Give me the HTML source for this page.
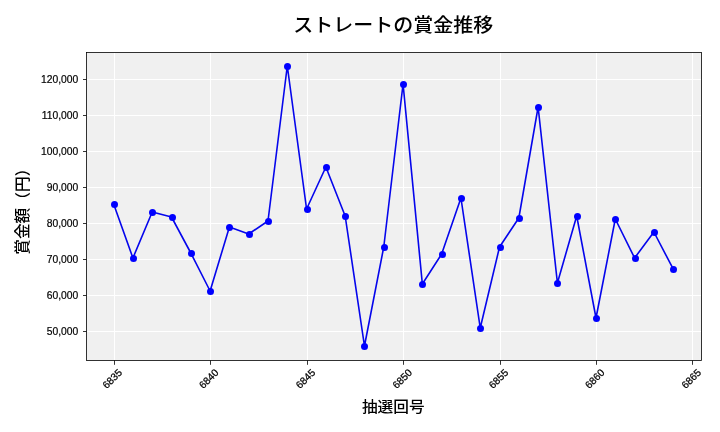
<!DOCTYPE html>
<html lang="ja"><head><meta charset="utf-8"><title>ストレートの賞金推移</title>
<style>html,body{margin:0;padding:0;background:#fff;overflow:hidden}svg{display:block}text{font-family:"Liberation Sans", "Noto Sans CJK JP", sans-serif;fill:#000}</style></head><body>
<svg width="720" height="432" viewBox="0 0 720 432">
<rect x="0" y="0" width="720" height="432" fill="#ffffff"/>
<rect x="86.50" y="52.50" width="615.00" height="308.00" fill="#f0f0f0"/>
<path d="M114.5 52.5V360.5M210.5 52.5V360.5M307.5 52.5V360.5M403.5 52.5V360.5M500.5 52.5V360.5M596.5 52.5V360.5M692.5 52.5V360.5M86.5 331.5H701.5M86.5 295.5H701.5M86.5 259.5H701.5M86.5 223.5H701.5M86.5 187.5H701.5M86.5 151.5H701.5M86.5 115.5H701.5M86.5 79.5H701.5" stroke="#ffffff" stroke-width="1" fill="none"/>
<path d="M114.5 360.5v4.3M210.5 360.5v4.3M307.5 360.5v4.3M403.5 360.5v4.3M500.5 360.5v4.3M596.5 360.5v4.3M692.5 360.5v4.3M86.5 331.5h-3.5M86.5 295.5h-3.5M86.5 259.5h-3.5M86.5 223.5h-3.5M86.5 187.5h-3.5M86.5 151.5h-3.5M86.5 115.5h-3.5M86.5 79.5h-3.5" stroke="#000" stroke-width="0.8" fill="none"/>
<polyline points="113.63,204.00 132.93,258.00 152.22,212.00 171.51,217.00 190.81,253.00 210.11,291.00 229.40,227.00 248.69,234.00 267.99,221.00 287.29,66.00 306.58,209.00 325.88,167.00 345.17,216.00 364.47,346.00 383.76,247.00 403.06,84.00 422.35,284.00 441.65,254.00 460.94,198.00 480.24,328.00 499.53,247.00 518.83,218.00 538.12,107.00 557.41,283.00 576.71,216.00 596.01,318.00 615.30,219.00 634.60,258.00 653.89,232.00 673.19,269.00" fill="none" stroke="#0505ec" stroke-width="1.6" stroke-linejoin="round" stroke-linecap="square"/>
<circle cx="114.5" cy="204.5" r="3.5" fill="#0000ff"/>
<circle cx="133.5" cy="258.5" r="3.5" fill="#0000ff"/>
<circle cx="152.5" cy="212.5" r="3.5" fill="#0000ff"/>
<circle cx="172.5" cy="217.5" r="3.5" fill="#0000ff"/>
<circle cx="191.5" cy="253.5" r="3.5" fill="#0000ff"/>
<circle cx="210.5" cy="291.5" r="3.5" fill="#0000ff"/>
<circle cx="229.5" cy="227.5" r="3.5" fill="#0000ff"/>
<circle cx="249.5" cy="234.5" r="3.5" fill="#0000ff"/>
<circle cx="268.5" cy="221.5" r="3.5" fill="#0000ff"/>
<circle cx="287.5" cy="66.5" r="3.5" fill="#0000ff"/>
<circle cx="307.5" cy="209.5" r="3.5" fill="#0000ff"/>
<circle cx="326.5" cy="167.5" r="3.5" fill="#0000ff"/>
<circle cx="345.5" cy="216.5" r="3.5" fill="#0000ff"/>
<circle cx="364.5" cy="346.5" r="3.5" fill="#0000ff"/>
<circle cx="384.5" cy="247.5" r="3.5" fill="#0000ff"/>
<circle cx="403.5" cy="84.5" r="3.5" fill="#0000ff"/>
<circle cx="422.5" cy="284.5" r="3.5" fill="#0000ff"/>
<circle cx="442.5" cy="254.5" r="3.5" fill="#0000ff"/>
<circle cx="461.5" cy="198.5" r="3.5" fill="#0000ff"/>
<circle cx="480.5" cy="328.5" r="3.5" fill="#0000ff"/>
<circle cx="500.5" cy="247.5" r="3.5" fill="#0000ff"/>
<circle cx="519.5" cy="218.5" r="3.5" fill="#0000ff"/>
<circle cx="538.5" cy="107.5" r="3.5" fill="#0000ff"/>
<circle cx="557.5" cy="283.5" r="3.5" fill="#0000ff"/>
<circle cx="577.5" cy="216.5" r="3.5" fill="#0000ff"/>
<circle cx="596.5" cy="318.5" r="3.5" fill="#0000ff"/>
<circle cx="615.5" cy="219.5" r="3.5" fill="#0000ff"/>
<circle cx="635.5" cy="258.5" r="3.5" fill="#0000ff"/>
<circle cx="654.5" cy="232.5" r="3.5" fill="#0000ff"/>
<circle cx="673.5" cy="269.5" r="3.5" fill="#0000ff"/>
<rect x="86.50" y="52.50" width="615.00" height="308.00" fill="none" stroke="#000" stroke-width="0.8"/>
<text x="78.3" y="334.80" font-size="10.3" text-anchor="end" stroke="#000" stroke-width="0.2">50,000</text>
<text x="78.3" y="298.80" font-size="10.3" text-anchor="end" stroke="#000" stroke-width="0.2">60,000</text>
<text x="78.3" y="262.80" font-size="10.3" text-anchor="end" stroke="#000" stroke-width="0.2">70,000</text>
<text x="78.3" y="226.80" font-size="10.3" text-anchor="end" stroke="#000" stroke-width="0.2">80,000</text>
<text x="78.3" y="190.80" font-size="10.3" text-anchor="end" stroke="#000" stroke-width="0.2">90,000</text>
<text x="78.3" y="154.80" font-size="10.3" text-anchor="end" stroke="#000" stroke-width="0.2">100,000</text>
<text x="78.3" y="118.80" font-size="10.3" text-anchor="end" stroke="#000" stroke-width="0.2">110,000</text>
<text x="78.3" y="82.80" font-size="10.3" text-anchor="end" stroke="#000" stroke-width="0.2">120,000</text>
<text transform="translate(114.70,381.20) rotate(-45)" font-size="10.2" text-anchor="middle" stroke="#000" stroke-width="0.25">6835</text>
<text transform="translate(211.30,381.20) rotate(-45)" font-size="10.2" text-anchor="middle" stroke="#000" stroke-width="0.25">6840</text>
<text transform="translate(307.90,381.20) rotate(-45)" font-size="10.2" text-anchor="middle" stroke="#000" stroke-width="0.25">6845</text>
<text transform="translate(404.80,381.20) rotate(-45)" font-size="10.2" text-anchor="middle" stroke="#000" stroke-width="0.25">6850</text>
<text transform="translate(501.00,381.20) rotate(-45)" font-size="10.2" text-anchor="middle" stroke="#000" stroke-width="0.25">6855</text>
<text transform="translate(597.30,381.20) rotate(-45)" font-size="10.2" text-anchor="middle" stroke="#000" stroke-width="0.25">6860</text>
<text transform="translate(693.70,381.20) rotate(-45)" font-size="10.2" text-anchor="middle" stroke="#000" stroke-width="0.25">6865</text>
<text transform="translate(393.2,31.7) scale(1,0.95)" font-size="20" font-weight="500" text-anchor="middle">ストレートの賞金推移</text>
<text transform="translate(393.3,412.2) scale(1,0.94)" font-size="15.7" font-weight="500" text-anchor="middle">抽選回号</text>
<text transform="translate(28.1,207.7) rotate(-90)" font-size="15.7" font-weight="500" text-anchor="middle">賞金額（円）</text>
</svg></body></html>
